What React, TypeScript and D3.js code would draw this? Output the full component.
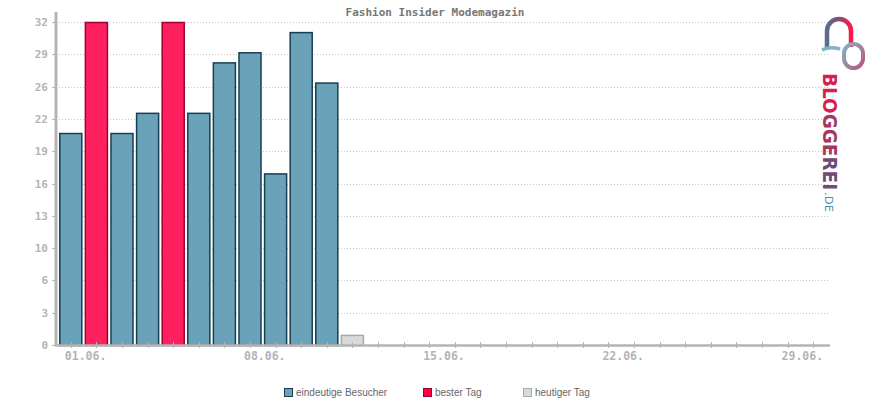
import React from "react";
import * as d3 from "d3";

const title = "Fashion Insider Modemagazin";
const days = [
  "01.06.", "02.06.", "03.06.", "04.06.", "05.06.", "06.06.", "07.06.", "08.06.", "09.06.", "10.06.",
  "11.06.", "12.06.", "13.06.", "14.06.", "15.06.", "16.06.", "17.06.", "18.06.", "19.06.", "20.06.",
  "21.06.", "22.06.", "23.06.", "24.06.", "25.06.", "26.06.", "27.06.", "28.06.", "29.06.", "30.06.",
];
const visitors = [21, 32, 21, 23, 32, 23, 28, 29, 17, 31, 26, 1];
const bestDays = ["02.06.", "05.06."];
const todayLabel = "12.06.";
const labeledDays = ["01.06.", "08.06.", "15.06.", "22.06.", "29.06."];
const yTickValues = [0, 3.2, 6.4, 9.6, 12.8, 16, 19.2, 22.4, 25.6, 28.8, 32];
const yTickLabels = ["0", "3", "6", "10", "13", "16", "19", "22", "26", "29", "32"];
const legendItems = ["eindeutige Besucher", "bester Tag", "heutiger Tag"];

const LEFT = 56;
const RIGHT = 830;
const TOP = 22;
const BASE = 345;

const mono = "'DejaVu Sans Mono', monospace";

export default function App() {
  const x = d3.scaleBand<string>().domain(days).range([58, 826]).paddingInner(0.1).paddingOuter(0.05);
  const y = d3.scaleLinear().domain([0, 32]).range([BASE, TOP]);

  const style = (d: string) => {
    if (d === todayLabel) return { fill: "#d9d9d9", stroke: "#a8a8a8" };
    if (bestDays.includes(d)) return { fill: "#ff2060", stroke: "#a0002c" };
    return { fill: "#6aa2b9", stroke: "#163f52" };
  };

  const legendStyles = [
    { fill: "#6aa2b9", stroke: "#163f52", x: 284 },
    { fill: "#ff0040", stroke: "#a0002c", x: 423 },
    { fill: "#d9d9d9", stroke: "#a8a8a8", x: 523 },
  ];

  return (
    <svg width={870} height={400} style={{ position: "absolute", left: 0, top: 0 }}>
      <defs>
        <linearGradient id="archG" x1="0" y1="0" x2="1" y2="0">
          <stop offset="0" stopColor="#5b6e8c" />
          <stop offset="0.5" stopColor="#8a4a78" />
          <stop offset="1" stopColor="#ff1848" />
        </linearGradient>
        <linearGradient id="ringG" x1="0" y1="0" x2="1" y2="1">
          <stop offset="0" stopColor="#7fb4c8" />
          <stop offset="1" stopColor="#b85878" />
        </linearGradient>
      </defs>

      {/* title */}
      <text x={435} y={16} textAnchor="middle" fontFamily={mono} fontWeight="bold" fontSize={11} fill="#777">
        {title}
      </text>

      {/* gridlines */}
      {yTickValues.slice(1).map((v) => (
        <line key={"g" + v} x1={LEFT} x2={RIGHT} y1={Math.round(y(v)) + 0.5} y2={Math.round(y(v)) + 0.5}
          stroke="#c4c4c4" strokeDasharray="1,2" />
      ))}

      {/* y tick labels and ticks */}
      {yTickValues.map((v, i) => (
        <g key={"y" + v}>
          <line x1={LEFT - 4} x2={LEFT} y1={Math.round(y(v)) + 0.5} y2={Math.round(y(v)) + 0.5} stroke="#b4b4b4" />
          <text x={48} y={y(v) + 4} textAnchor="end" fontFamily={mono} fontWeight="bold" fontSize={11} fill="#b4b4b4">
            {yTickLabels[i]}
          </text>
        </g>
      ))}

      {/* bars */}
      {visitors.map((v, i) => {
        const d = days[i];
        const s = style(d);
        const x0 = x(d)!;
        return (
          <rect key={"b" + d} x={x0 + 0.5} y={y(v) + 0.5} width={x.bandwidth() - 1} height={BASE - y(v)}
            fill={s.fill} stroke={s.stroke} strokeWidth={1.5} />
        );
      })}

      {/* axes */}
      <line x1={LEFT} x2={LEFT} y1={12} y2={BASE + 1} stroke="#b4b4b4" strokeWidth={3} />
      <line x1={LEFT - 1} x2={RIGHT} y1={BASE + 0.5} y2={BASE + 0.5} stroke="#b4b4b4" strokeWidth={2.5} />

      {/* x ticks */}
      {days.map((d) => {
        const cx = Math.round(x(d)! + x.bandwidth() / 2) + 0.5;
        return <line key={"t" + d} x1={cx} x2={cx} y1={BASE - 3} y2={BASE + 3} stroke="#b4b4b4" />;
      })}
      {labeledDays.map((d) => (
        <text key={"l" + d} x={x(d)! + x.bandwidth() / 2 - 6} y={360} fontFamily={mono} fontWeight="bold"
          fontSize={11.5} fill="#b4b4b4">
          {d}
        </text>
      ))}

      {/* legend */}
      {legendItems.map((t, i) => (
        <g key={"lg" + t}>
          <rect x={legendStyles[i].x + 0.5} y={388.5} width={8} height={8} fill={legendStyles[i].fill}
            stroke={legendStyles[i].stroke} strokeWidth={1} />
          <text x={legendStyles[i].x + 12} y={396} fontFamily="'Liberation Sans', Arial, sans-serif" fontSize={10}
            fill="#666">
            {t}
          </text>
        </g>
      ))}

      {/* logo */}
      <g>
        <path d="M827,48 L827,31 A12,12 0 0 1 851,31 L851,47" fill="none" stroke="url(#archG)" strokeWidth={4.5} />
        <path d="M822,50 Q830,46 840,49" fill="none" stroke="#7fb4c8" strokeWidth={3.5} />
        <rect x={844} y={44} width={19} height={24} rx={9.5} fill="none" stroke="url(#ringG)" strokeWidth={4} />
        <g transform="translate(823,73) rotate(90)">
          <text x={0} y={0} fontFamily="'DejaVu Sans', sans-serif" fontWeight="bold" fontSize={19.5}
            textLength={117} lengthAdjust="spacingAndGlyphs">
            <tspan fill="#d82050">BLO</tspan>
            <tspan fill="#a83560">GGE</tspan>
            <tspan fill="#704a78">REI</tspan>
          </text>
          <text x={119} y={-2} fontFamily="'DejaVu Sans', sans-serif" fontSize={11} fill="#4a8fb2"
            textLength={20} lengthAdjust="spacingAndGlyphs">
            .DE
          </text>
        </g>
      </g>
    </svg>
  );
}
